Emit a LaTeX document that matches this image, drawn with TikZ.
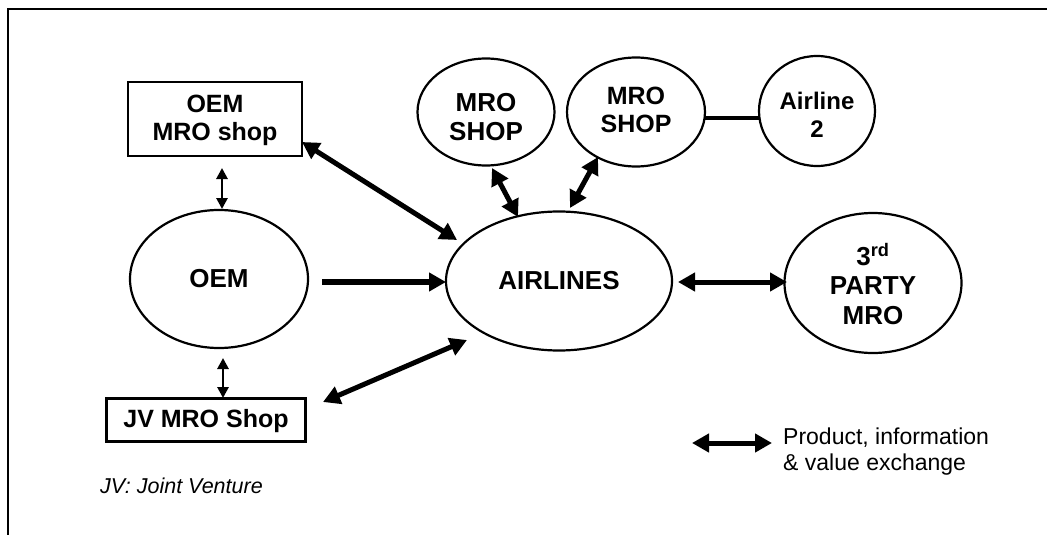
\documentclass[tikz,border=0pt]{standalone}
\usepackage{fontspec}
\setmainfont{Liberation Sans}
\usetikzlibrary{shapes.geometric,arrows.meta,calc}
\begin{document}
\begin{tikzpicture}[x=1pt,y=-1pt,
  every node/.style={inner sep=0pt},
  bubble/.style={draw,ellipse,line width=2.2pt},
  shopbox/.style={draw,rectangle,line width=2.2pt},
  lbl/.style={align=center,font=\bfseries\fontsize{26}{29.5}\selectfont},
  boxlbl/.style={align=center,font=\bfseries\fontsize{25}{28}\selectfont},
  bigtip/.tip={Triangle[length=17pt,width=18pt]},
  smalltip/.tip={Triangle[length=11pt,width=11pt]},
  biglink/.style={line width=5pt,bigtip-bigtip},
  onelink/.style={line width=6pt,-bigtip},
  smalllink/.style={line width=2.8pt,smalltip-smalltip},
  tie/.style={line width=4.5pt}]

\useasboundingbox (0,0) rectangle (1047,535);

% open frame: top and left edges only
\draw[line width=2.2pt] (8,535) -- (8,9) -- (1047,9);

% shapes
\node[shopbox,minimum width=174pt,minimum height=74pt] (shopA) at (215,119) {};
\node[bubble,minimum width=178pt,minimum height=138pt] (oem) at (219,279) {};
\node[shopbox,minimum width=199pt,minimum height=43pt] (jv) at (206,420) {};
\node[bubble,minimum width=226pt,minimum height=139pt] (air) at (559,281) {};
\node[bubble,minimum width=137pt,minimum height=107pt] (mroA) at (486,112) {};
\node[bubble,minimum width=138pt,minimum height=109pt] (mroB) at (636,112) {};
\node[bubble,minimum width=116pt,minimum height=110pt] (al2) at (817,111) {};
\node[bubble,minimum width=177pt,minimum height=140pt] (tp) at (873,283) {};

% labels
\node[boxlbl] (shopAtxt) at ($(shopA.center)+(0,1)$) {OEM\\MRO shop};
\node[lbl] (oemtxt) at (oem.center) {OEM};
\node[boxlbl] (jvtxt) at ($(jv.center)+(0,1)$) {JV MRO Shop};
\node[lbl] (airtxt) at (air.center) {AIRLINES};
\node[lbl] (mroAtxt) at ($(mroA.center)+(0,5)$) {MRO\\SHOP};
\node[lbl,font=\bfseries\fontsize{25}{28}\selectfont] (mroBtxt) at ($(mroB.center)+(0,-2)$) {MRO\\SHOP};
\node[lbl,font=\bfseries\fontsize{24}{27.5}\selectfont] (al2txt) at ($(al2.center)+(0,4)$) {Airline\\2};
\node[lbl] (tptxt) at ($(tp.center)+(0,1)$) {3\textsuperscript{rd}\\PARTY\\MRO};

% connectors
\draw[onelink] ($(oem.center)+(103,3)$) -- ($(air.center)+(-113,1)$);
\draw[biglink] ($(air.center)+(119,1)$) -- ($(tp.center)+(-86,-1)$);
\draw[biglink] ($(shopA.center)+(87,23)$) -- ($(air.center)+(-102,-41)$);
\draw[biglink] ($(jv.center)+(117,-18)$) -- ($(air.center)+(-92,59)$);
\draw[biglink] ($(mroA.center)+(6,56)$) -- ($(air.center)+(-41,-64)$);
\draw[biglink] ($(mroB.center)+(-38,45)$) -- ($(air.center)+(11,-73)$);
\draw[smalllink] ($(shopA.center)+(7,49)$) -- ($(oem.center)+(3,-70)$);
\draw[smalllink] ($(oem.center)+(4,79)$) -- ($(jv.center)+(17,-22)$);
\draw[tie] ($(mroB.center)+(69,6)$) -- ($(al2.center)+(-58,7)$);

% legend
\coordinate (legL) at (692,443);
\coordinate (legR) at (772,443);
\draw[biglink] (legL) -- (legR);
\node[anchor=west,align=left,font=\fontsize{23}{26}\selectfont] (legtext) at (783,452)
  {Product, information\\\& value exchange};

% footnote
\node[anchor=west,font=\itshape\fontsize{21.5}{24}\selectfont] (note) at (100,486) {JV: Joint Venture};
\end{tikzpicture}
\end{document}
